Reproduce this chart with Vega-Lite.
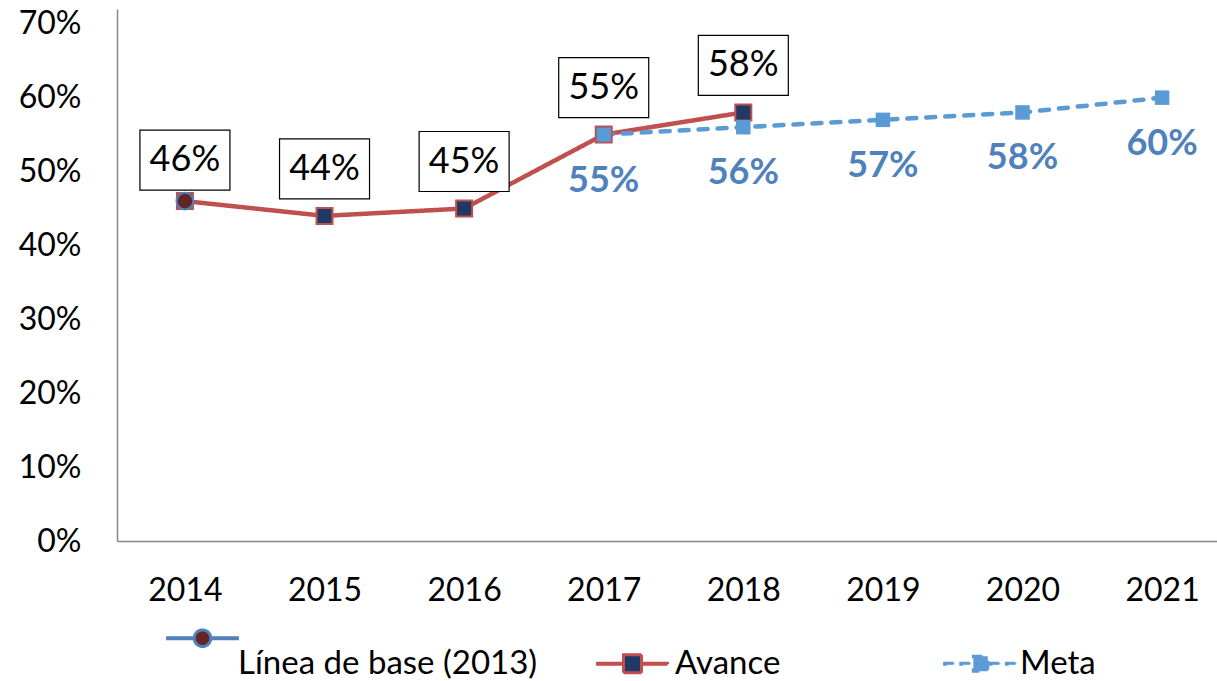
{
  "$schema": "https://vega.github.io/schema/vega-lite/v6.json",
  "autosize": {"type": "none"},
  "padding": {"left": 117, "top": 9, "right": 0, "bottom": 140},
  "width": 1100,
  "height": 532,
  "background": "white",
  "config": {
    "view": {"stroke": null},
    "font": "Lato",
    "axis": {"labelFont": "Lato", "labelFontSize": 32, "labelColor": "#000000", "ticks": false, "grid": false, "domainColor": "#868686", "domainWidth": 1.5, "title": null}
  },
  "data": {
    "values": [
      {"year": "2014", "serie": "Línea de base (2013)", "value": 0.46},
      {"year": "2014", "serie": "Avance", "value": 0.46},
      {"year": "2015", "serie": "Avance", "value": 0.44},
      {"year": "2016", "serie": "Avance", "value": 0.45},
      {"year": "2017", "serie": "Avance", "value": 0.55},
      {"year": "2018", "serie": "Avance", "value": 0.58},
      {"year": "2017", "serie": "Meta", "value": 0.55},
      {"year": "2018", "serie": "Meta", "value": 0.56},
      {"year": "2019", "serie": "Meta", "value": 0.57},
      {"year": "2020", "serie": "Meta", "value": 0.58},
      {"year": "2021", "serie": "Meta", "value": 0.60}
    ]
  },
  "encoding": {
    "x": {"field": "year", "type": "ordinal", "scale": {"type": "point", "padding": 0.44, "align": 0.553, "domain": ["2014","2015","2016","2017","2018","2019","2020","2021"]}, "axis": {"labelAngle": 0, "labelPadding": 34}},
    "y": {"field": "value", "type": "quantitative", "scale": {"domain": [0, 0.72], "nice": false, "zero": true}, "axis": {"values": [0, 0.1, 0.2, 0.3, 0.4, 0.5, 0.6, 0.7], "format": ".0%", "labelPadding": 36}}
  },
  "layer": [
    {
      "transform": [{"filter": "datum.serie !== 'Línea de base (2013)'"}],
      "mark": {"type": "line", "strokeWidth": 4.5, "strokeCap": "round"},
      "encoding": {
        "color": {
          "field": "serie", "type": "nominal",
          "scale": {"domain": ["Línea de base (2013)", "Avance", "Meta"], "range": ["#4F81BD", "#C0504D", "#5B9BD5"]},
          "legend": {
            "orient": "none", "legendX": 48, "legendY": 617, "direction": "horizontal", "title": null,
            "padding": 0, "symbolSize": 5184, "labelFont": "Lato", "labelFontSize": 33, "labelColor": "#000000",
            "labelOffset": 0, "columnPadding": 53, "labelLimit": 0,
            "encode": {
              "labels": {
                "update": {
                  "dx": {"signal": "datum.value === 'Avance' ? 5 : datum.value === 'Meta' ? 111 : -2"}
                }
              },
              "symbols": {
                "update": {
                  "shape": {"signal": "datum.value === 'Avance' ? 'M-0.97,-0.015H-0.25V0.015H-0.97Z M0.25,-0.015H0.97V0.015H0.25Z M-0.25,-0.25H0.25V0.25H-0.25Z' : datum.value === 'Meta' ? 'M2.03,-0.015H2.31V0.015H2.03Z M2.48,-0.015H2.76V0.015H2.48Z M2.83,-0.21H3.23V0.21H2.83Z M3.3,-0.015H3.58V0.015H3.3Z M3.75,-0.015H4.03V0.015H3.75Z' : 'M-0.97,-0.725H-0.26V-0.695H-0.97Z M0.26,-0.725H0.97V-0.695H0.26Z M-0.23,-0.71A0.23,0.23,0,1,0,0.23,-0.71A0.23,0.23,0,1,0,-0.23,-0.71Z'"},
                  "fill": {"signal": "datum.value === 'Avance' ? '#1F3864' : datum.value === 'Meta' ? '#5B9BD5' : '#632523'"},
                  "stroke": {"signal": "datum.value === 'Avance' ? '#C0504D' : datum.value === 'Meta' ? '#5B9BD5' : '#4F81BD'"},
                  "strokeWidth": {"value": 3},
                  "strokeDash": {"value": []},
                  "opacity": {"value": 1},
                  "fillOpacity": {"value": 1}
                }
              }
            }
          }
        },
        "strokeDash": {
          "field": "serie", "type": "nominal",
          "scale": {"domain": ["Línea de base (2013)", "Avance", "Meta"], "range": [[1, 0], [1, 0], [9, 10]]},
          "legend": null
        }
      }
    },
    {
      "transform": [{"filter": "datum.serie === 'Avance'"}],
      "mark": {"type": "point", "shape": "square", "filled": true, "size": 256, "fill": "#1F3864", "stroke": "#C0504D", "strokeWidth": 2, "opacity": 1}
    },
    {
      "transform": [{"filter": "datum.serie === 'Meta'"}],
      "mark": {"type": "point", "shape": "square", "filled": true, "size": 210, "fill": "#5B9BD5", "opacity": 1}
    },
    {
      "transform": [{"filter": "datum.serie === 'Línea de base (2013)'"}],
      "mark": {"type": "point", "shape": "circle", "filled": true, "size": 280, "fill": "#632523", "stroke": "#4F81BD", "strokeWidth": 2, "opacity": 1}
    },
    {
      "transform": [{"filter": "datum.serie === 'Avance' && datum.year !== '2014'"}],
      "mark": {"type": "point", "shape": "M-1.5,-1H1.5V1H-1.5Z", "filled": true, "size": 3600, "fill": "#FFFFFF", "stroke": "#000000", "strokeWidth": 1.2, "opacity": 1, "yOffset": -47}
    },
    {
      "transform": [{"filter": "datum.serie === 'Avance' && datum.year !== '2014'"}],
      "mark": {"type": "text", "font": "Lato", "fontSize": 36, "color": "#000000", "align": "center", "baseline": "middle", "yOffset": -47},
      "encoding": {"text": {"field": "value", "type": "quantitative", "format": ".0%"}}
    },
    {
      "transform": [{"filter": "datum.serie === 'Línea de base (2013)'"}],
      "mark": {"type": "point", "shape": "M-1.5,-1H1.5V1H-1.5Z", "filled": true, "size": 3600, "fill": "#FFFFFF", "stroke": "#000000", "strokeWidth": 1.2, "opacity": 1, "yOffset": -41}
    },
    {
      "transform": [{"filter": "datum.serie === 'Línea de base (2013)'"}],
      "mark": {"type": "text", "font": "Lato", "fontSize": 36, "color": "#000000", "align": "center", "baseline": "middle", "yOffset": -41},
      "encoding": {"text": {"field": "value", "type": "quantitative", "format": ".0%"}}
    },
    {
      "transform": [{"filter": "datum.serie === 'Meta'"}],
      "mark": {"type": "text", "font": "Lato", "fontSize": 36, "fontWeight": "bold", "color": "#4F81BD", "align": "center", "baseline": "middle", "yOffset": 46},
      "encoding": {"text": {"field": "value", "type": "quantitative", "format": ".0%"}}
    }
  ]
}
